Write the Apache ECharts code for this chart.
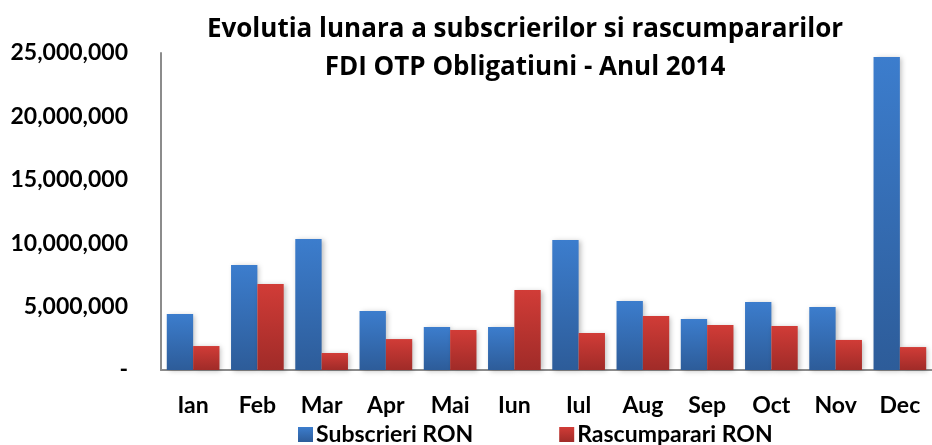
<!DOCTYPE html>
<html>
<head>
<meta charset="utf-8">
<script src="https://cdn.jsdelivr.net/npm/echarts@6/dist/echarts.min.js"></script>
<style>
  html, body { margin: 0; padding: 0; background: #fff; }
  #main { width: 932px; height: 445px; }
</style>
</head>
<body>
<div id="main"></div>
<script>
var luni = ['Ian', 'Feb', 'Mar', 'Apr', 'Mai', 'Iun', 'Iul', 'Aug', 'Sep', 'Oct', 'Nov', 'Dec'];
var subscrieri = [4420000, 8280000, 10330000, 4650000, 3390000, 3390000, 10250000, 5440000, 4020000, 5360000, 4970000, 24680000];
var rascumparari = [1890000, 6780000, 1340000, 2440000, 3150000, 6310000, 2920000, 4260000, 3550000, 3470000, 2370000, 1810000];

var font = 'Lato';
var myChart = echarts.init(document.getElementById('main'));

function grad(top, bottom) {
    return new echarts.graphic.LinearGradient(0, 0, 0, 1, [
        { offset: 0, color: top },
        { offset: 1, color: bottom }
    ]);
}

var option = {
    animation: false,
    title: {
        text: 'Evolutia lunara a subscrierilor si rascumpararilor\nFDI OTP Obligatiuni - Anul 2014',
        left: 520,
        top: 6,
        textAlign: 'center',
        textStyle: {
            fontFamily: 'Open Sans',
            fontWeight: 'bold',
            fontSize: 26,
            lineHeight: 38,
            color: '#000'
        }
    },
    legend: {
        left: 293,
        top: 418,
        itemWidth: 15,
        itemHeight: 15,
        itemGap: 86,
        icon: 'rect',
        textStyle: {
            fontFamily: font,
            fontWeight: 'bold',
            fontSize: 23,
            color: '#000',
            padding: [0, 0, 0, -2]
        },
        data: ['Subscrieri RON', 'Rascumparari RON']
    },
    grid: {
        left: 161,
        right: -5,
        top: 53,
        bottom: 75
    },
    xAxis: {
        type: 'category',
        data: luni,
        axisTick: { show: false },
        axisLine: {
            lineStyle: { color: '#8c8c8c', width: 2 }
        },
        axisLabel: {
            margin: 24,
            fontFamily: font,
            fontWeight: 'bold',
            fontSize: 23,
            color: '#000'
        }
    },
    yAxis: {
        type: 'value',
        min: 0,
        max: 25000000,
        interval: 5000000,
        splitLine: { show: false },
        axisTick: { show: false },
        axisLine: {
            show: true,
            lineStyle: { color: '#8c8c8c', width: 2 }
        },
        axisLabel: {
            margin: 33,
            fontFamily: font,
            fontWeight: 'bold',
            fontSize: 23,
            color: '#000',
            formatter: function (v) {
                return v === 0 ? '-' : v.toLocaleString('en-US');
            }
        }
    },
    series: [
        {
            name: 'Subscrieri RON',
            type: 'bar',
            barGap: 0,
            barCategoryGap: '18%',
            itemStyle: {
                color: grad('#3c7dcd', '#2d5c99'),
                shadowBlur: 5,
                shadowOffsetX: 2,
                shadowOffsetY: 1,
                shadowColor: 'rgba(0,0,0,0.25)'
            },
            data: subscrieri
        },
        {
            name: 'Rascumparari RON',
            type: 'bar',
            itemStyle: {
                color: grad('#d13c37', '#a02b28'),
                shadowBlur: 5,
                shadowOffsetX: 2,
                shadowOffsetY: 1,
                shadowColor: 'rgba(0,0,0,0.25)'
            },
            data: rascumparari
        }
    ]
};

myChart.setOption(option);
</script>
</body>
</html>
